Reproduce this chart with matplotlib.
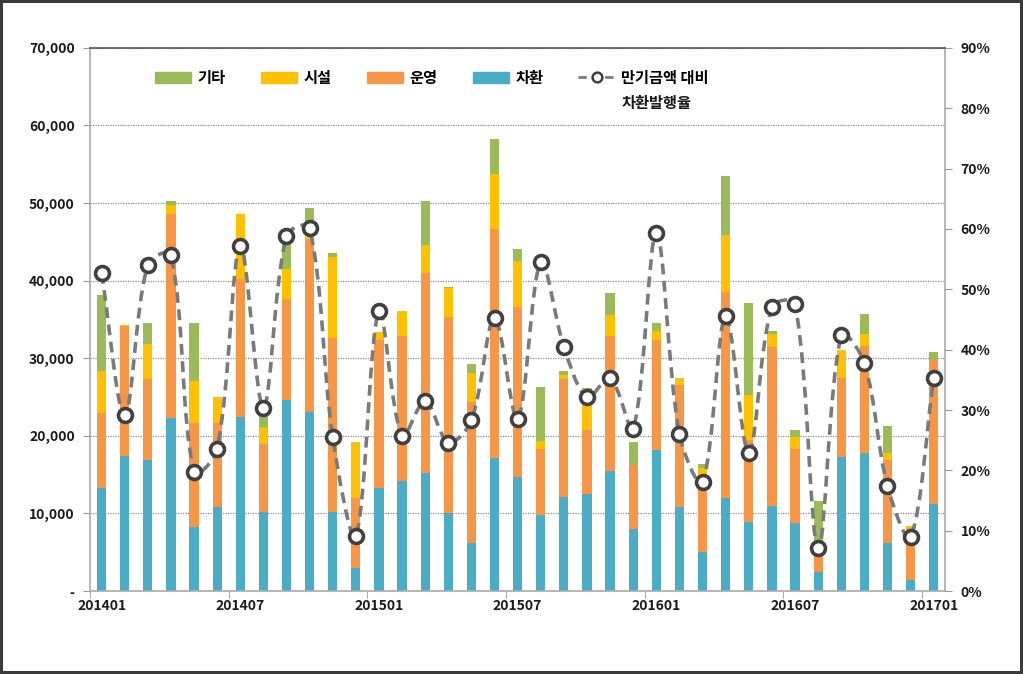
import numpy as np
import matplotlib
matplotlib.use('Agg')
import matplotlib.pyplot as plt
from matplotlib.path import Path
from matplotlib.patches import PathPatch
from matplotlib.lines import Line2D
from matplotlib.ticker import FuncFormatter

plt.rcParams['font.family'] = ['Noto Sans CJK KR', 'DejaVu Sans']

# 월별 데이터 (201401 ~ 201701)
months = [f'{y}{m:02d}' for y in (2014, 2015, 2016) for m in range(1, 13)] + ['201701']

# 차환은 금액, 나머지는 누적 높이
chahwan = [13230, 17380, 16830, 22360, 8210, 10830, 22450, 10240, 24620, 23050, 10140, 3000,
           13230, 14250, 15210, 10000, 6220, 17200, 14750, 9820, 12130, 12450, 15450, 8020,
           18210, 10830, 5070, 11990, 8850, 10970, 8760, 2500, 17290, 17750, 6220, 1480, 11160]
unyeong_top = [22910, 34120, 27290, 48550, 21620, 21670, 40200, 18990, 37670, 45320, 32640, 11990,
               32370, 32830, 41030, 35360, 24430, 46700, 36650, 18350, 27290, 20750, 32830, 16230,
               32370, 26600, 14980, 38590, 19460, 31440, 18300, 6000, 27430, 31580, 16830, 8070, 29780]
siseol_top = [28350, 34250, 31810, 49700, 27060, 25030, 48550, 21120, 41450, 45870, 43010, 19230,
              33430, 36050, 44630, 39050, 28120, 53800, 42550, 19360, 27890, 25360, 35640, 16230,
              33560, 27520, 15910, 45870, 25260, 33100, 19820, 6000, 31120, 33100, 17840, 8390, 29780]
gita_top = [38170, 34250, 34580, 50300, 34580, 25030, 48550, 23200, 44900, 49330, 43520, 19230,
            33430, 36050, 50300, 39190, 29280, 58280, 44120, 26280, 28350, 26190, 38450, 19230,
            34580, 27520, 16370, 53430, 37150, 33520, 20750, 11600, 31120, 35730, 21210, 8390, 30850]
rate = [52.7, 29.2, 54.1, 55.7, 19.7, 23.5, 57.2, 30.4, 58.9, 60.2, 25.5, 9.1,
        46.4, 25.7, 31.5, 24.6, 28.3, 45.2, 28.5, 54.5, 40.5, 32.1, 35.3, 26.9,
        59.3, 26.0, 18.0, 45.6, 22.9, 47.1, 47.6, 7.1, 42.4, 37.8, 17.4, 8.9, 35.3]

chahwan = np.array(chahwan)
unyeong = np.array(unyeong_top) - chahwan
siseol = np.array(siseol_top) - np.array(unyeong_top)
gita = np.array(gita_top) - np.array(siseol_top)

c_blue = '#4BACC6'
c_orange = '#F79646'
c_yellow = '#FFC000'
c_green = '#9BBB59'
c_line = '#7a7a7a'

fig = plt.figure(figsize=(10.23, 6.74), dpi=100)
fig.patch.set_edgecolor('#3a3a3a')
fig.patch.set_linewidth(3)
ax = fig.add_axes([0.088, 0.123, 0.836, 0.806])

x = np.arange(len(months))
w = 0.4
ax.bar(x, chahwan, w, color=c_blue, zorder=2)
ax.bar(x, unyeong, w, bottom=chahwan, color=c_orange, zorder=2)
ax.bar(x, siseol, w, bottom=chahwan + unyeong, color=c_yellow, zorder=2)
ax.bar(x, gita, w, bottom=chahwan + unyeong + siseol, color=c_green, zorder=2)

ax.set_xlim(-0.5, len(months) - 0.5)
ax.set_ylim(0, 70000)
ax.set_yticks(range(0, 70001, 10000))
ax.yaxis.set_major_formatter(FuncFormatter(lambda v, p: '-' if v == 0 else f'{v:,.0f}'))
ax.grid(axis='y', linestyle=(0, (1, 1)), color='#8c8c8c', linewidth=0.9, zorder=0)

label_idx = list(range(0, len(months), 6))
ax.set_xticks(label_idx)
ax.set_xticklabels([months[i] for i in label_idx])
ax.set_xticks([i - 0.5 for i in label_idx], minor=True)
ax.tick_params(axis='x', which='major', length=0, pad=6)
ax.tick_params(axis='x', which='minor', length=5, color='#999999', direction='out')
ax.tick_params(axis='y', length=5, color='#999999', pad=6)
for lab in ax.get_xticklabels() + ax.get_yticklabels():
    lab.set_fontsize(10)
    lab.set_fontweight('bold')
    lab.set_color('#1a1a1a')

for s in ['left', 'right', 'bottom']:
    ax.spines[s].set_color('#aaaaaa')
    ax.spines[s].set_linewidth(1.2)
ax.spines['top'].set_color('#555555')
ax.spines['top'].set_linewidth(1.2)

# 오른쪽 축 - 차환발행율
ax2 = ax.twinx()
ax2.set_ylim(0, 90)
ax2.set_yticks(range(0, 91, 10))
ax2.set_yticklabels([f'{v}%' for v in range(0, 91, 10)])
ax2.tick_params(axis='y', length=5, color='#999999', pad=6)
for lab in ax2.get_yticklabels():
    lab.set_fontsize(10)
    lab.set_fontweight('bold')
    lab.set_color('#1a1a1a')
for s in ax2.spines.values():
    s.set_visible(False)

# 부드러운 선 (엑셀 스타일 곡선) - 구간 길이 비율로 제어점 배분
sx = 23.1   # 한 칸당 픽셀
sy = 6.03   # 1%당 픽셀
pts = np.column_stack([x * sx, np.array(rate) * sy]).astype(float)
n = len(pts)
c_in = [pts[0]] * n
c_out = [pts[0]] * n
for i in range(n):
    prev_p = pts[max(i - 1, 0)]
    next_p = pts[min(i + 1, n - 1)]
    T = next_p - prev_p
    d0 = np.hypot(*(pts[i] - prev_p))
    d1 = np.hypot(*(next_p - pts[i]))
    tot = d0 + d1 if d0 + d1 > 0 else 1
    c_out[i] = pts[i] + T * (d1 / tot) / 3
    c_in[i] = pts[i] - T * (d0 / tot) / 3
verts = [pts[0]]
codes = [Path.MOVETO]
for i in range(n - 1):
    verts += [c_out[i], c_in[i + 1], pts[i + 1]]
    codes += [Path.CURVE4] * 3
verts = np.array(verts) / [sx, sy]
curve = PathPatch(Path(verts, codes), fill=False, edgecolor=c_line, linewidth=2.6,
                  linestyle=(0, (3, 1.8)), zorder=3)
ax2.add_patch(curve)
ax2.plot(x, rate, linestyle='none', marker='o', markersize=10, markerfacecolor='white',
         markeredgecolor='#404040', markeredgewidth=2.6, zorder=4)

# 범례
handles = [
    plt.Rectangle((0, 0), 1, 1, color=c_green),
    plt.Rectangle((0, 0), 1, 1, color=c_yellow),
    plt.Rectangle((0, 0), 1, 1, color=c_orange),
    plt.Rectangle((0, 0), 1, 1, color=c_blue),
    Line2D([], [], color=c_line, linestyle=(0, (3, 1.8)), linewidth=2,
           marker='o', markersize=7, markerfacecolor='white', markeredgecolor='#404040',
           markeredgewidth=1.8),
]
labels = ['기타', '시설', '운영', '차환', '만기금액 대비']
leg = ax2.legend(handles, labels, ncol=5, frameon=False, loc='upper left',
                 bbox_to_anchor=(141 / 1023, 1 - 56 / 674), bbox_transform=fig.transFigure,
                 handlelength=2.4, handleheight=0.7, handletextpad=0.4, columnspacing=2.3,
                 prop={'size': 11, 'weight': 'bold'})

fig.canvas.draw()
bb = leg.get_texts()[4].get_window_extent()
fig.text(bb.x0 / fig.bbox.width, 1 - 103 / 674, '차환발행율', fontsize=11, fontweight='bold',
         ha='left', va='center', color='#1a1a1a')

plt.savefig('out.png', dpi=100)
